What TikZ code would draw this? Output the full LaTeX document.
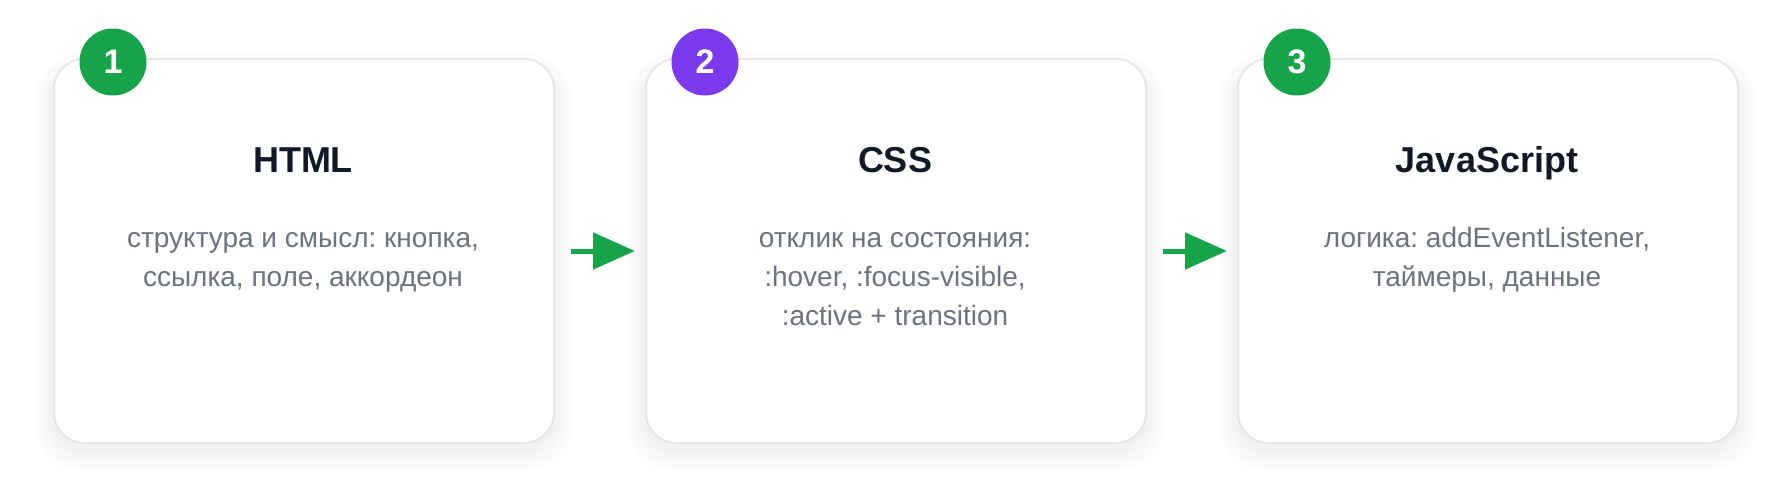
\documentclass[tikz,border=0pt]{standalone}
\usepackage{fontspec}
\setmainfont{Liberation Sans}
\usetikzlibrary{arrows.meta}
\frenchspacing
\definecolor{cardborder}{HTML}{E5E7EB}
\definecolor{titlecol}{HTML}{111827}
\definecolor{bodycol}{HTML}{6B7280}
\definecolor{greenbadge}{HTML}{16A34A}
\definecolor{purplebadge}{HTML}{7C3AED}
\definecolor{shadowcol}{HTML}{2A2F55}
\begin{document}
\begin{tikzpicture}[x=1pt,y=-1pt,
 card/.style={draw=cardborder, line width=2pt, fill=white, rounded corners=30pt, minimum width=500pt, minimum height=384pt, inner sep=0pt, anchor=north west},
 badge/.style={circle, minimum size=67pt, inner sep=0pt, text=white, font=\fontsize{34}{40}\selectfont\bfseries},
 cardtitle/.style={text=titlecol, font=\fontsize{36}{43}\selectfont\bfseries, anchor=base, inner sep=0pt},
 cardbody/.style={text=bodycol, font=\fontsize{28}{39}\selectfont\frenchspacing, anchor=base, inner sep=0pt},
 flow/.style={draw=greenbadge, line width=5pt, -{Triangle[length=42pt,width=36pt]}, shorten <=16pt, shorten >=10pt},
 shadowlayer/.style={fill=shadowcol, opacity=0.005}
]
\fill[white] (0,0) rectangle (1790,501);
\useasboundingbox (0,0) rectangle (1790,501);
% shadows
\foreach \L in {53,645,1237}{
  \foreach \i in {1,...,13}{
    \fill[shadowlayer, rounded corners={30pt+1.5*\i pt}] ({\L-1.6*\i},{72-1.6*\i}) rectangle ({\L+500+1.6*\i},{448+2*\i});
  }
}
% cards
\node[card] (c1) at (53,58) {};
\node[card] (c2) at (645,58) {};
\node[card] (c3) at (1237,58) {};
% badges
\node[badge, fill=greenbadge] (n1) at (113,62) {1};
\node[badge, fill=purplebadge] (n2) at (705,62) {2};
\node[badge, fill=greenbadge] (n3) at (1297,62) {3};
% titles
\node[cardtitle] (t1) at (303,172) {HTML};
\node[cardtitle] (t2) at (895,172) {CSS};
\node[cardtitle] (t3) at (1487,172) {JavaScript};
% bodies
\node[cardbody] (d1a) at (303,247) {структура и смысл: кнопка,};
\node[cardbody] (d1b) at (303,286) {ссылка, поле, аккордеон};
\node[cardbody] (d2a) at (895,247) {отклик на состояния:};
\node[cardbody] (d2b) at (895,286) {:hover, :focus-visible,};
\node[cardbody] (d2c) at (895,325) {:active + transition};
\node[cardbody] (d3a) at (1487,247) {логика: addEventListener,};
\node[cardbody] (d3b) at (1487,286) {таймеры, данные};
% connectors
\draw[flow] (c1.east) -- (c2.west);
\draw[flow] (c2.east) -- (c3.west);
\end{tikzpicture}
\end{document}
